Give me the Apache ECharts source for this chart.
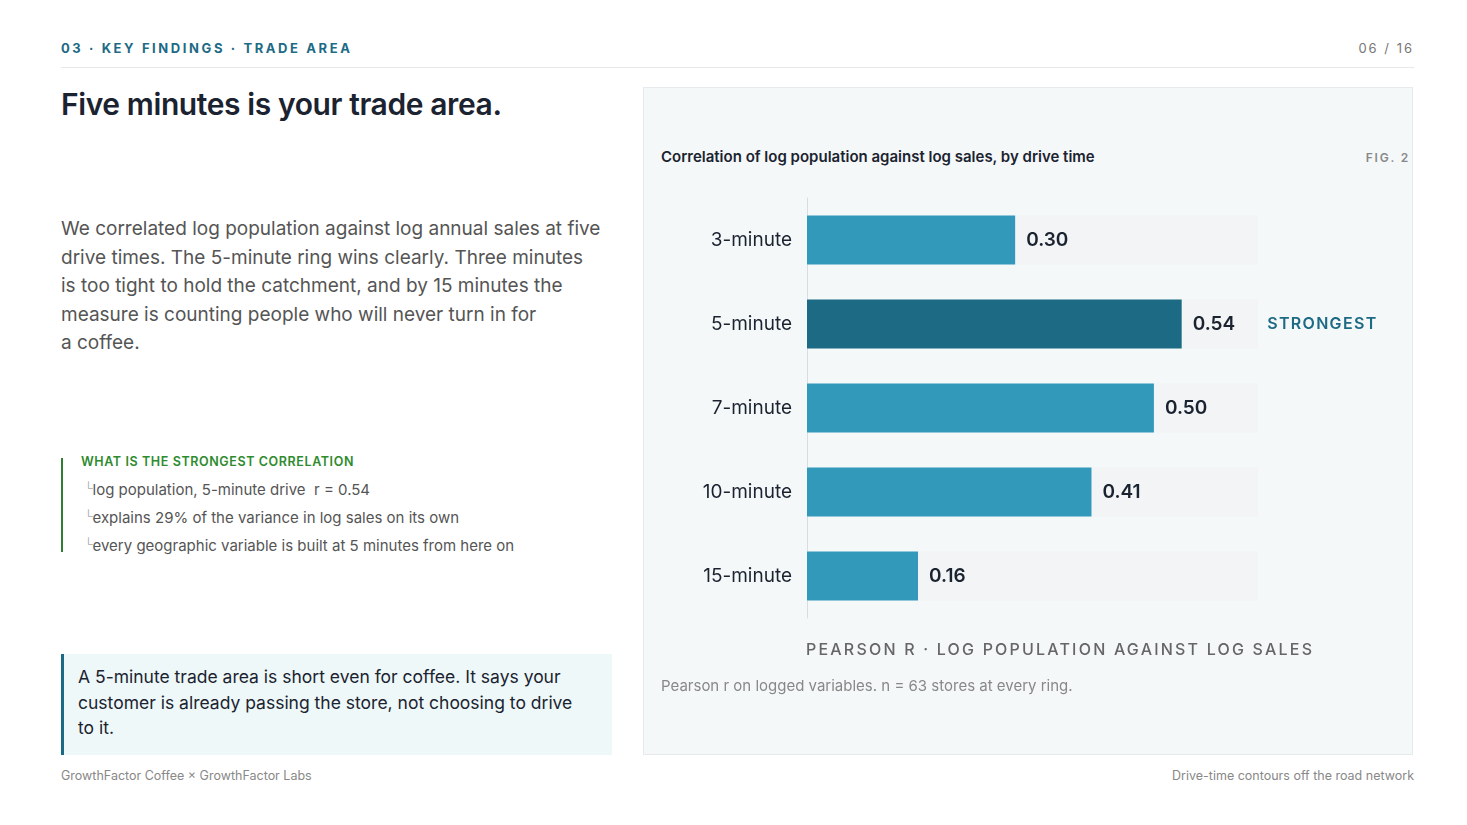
<!DOCTYPE html>
<html>
<head>
<meta charset="utf-8">
<script src="https://cdn.jsdelivr.net/npm/echarts@6/dist/echarts.min.js"></script>
<style>
  body{margin:0;width:1467px;height:825px;background:#fff;font-family:Inter,sans-serif;position:relative;overflow:hidden}
  .abs{position:absolute}
  #kicker{left:61px;top:40px;font-size:13px;font-weight:700;letter-spacing:2.6px;color:#1d6a85}
  #page{right:53px;top:40px;font-size:13px;letter-spacing:2px;color:#777}
  #rule{left:61px;right:53px;top:67px;height:1px;background:#e6e8ea}
  h1{position:absolute;left:61px;top:86px;margin:0;font-size:30px;font-weight:600;color:#1b2330;letter-spacing:-0.4px}
  #lead{left:61px;top:215px;width:560px;font-size:19px;line-height:28.5px;color:#555;white-space:nowrap}
  #box{left:61px;top:458px;height:94px;border-left:2px solid #2e7d32;padding-left:18px}
  #box .t{font-size:12.5px;font-weight:600;letter-spacing:0.6px;color:#2e8b2e;margin-top:-4px;margin-bottom:6px}
  #box .l{font-size:15px;color:#555;line-height:26px}
  #box .l span{color:#aaa;font-size:12px;vertical-align:3px;margin-left:3px}
  #call{left:61px;top:654px;width:551px;height:101px;background:#eef8f9;border-left:3px solid #1d6a85;padding:10px 30px 0 14px;box-sizing:border-box;font-size:17.5px;line-height:25.5px;color:#1b2330}
  #panel{left:643px;top:87px;width:770px;height:668px;background:#f5f8f9;border:1px solid #e6eaec;box-sizing:border-box}
  #ctitle{left:661px;top:147px;font-size:15px;font-weight:600;color:#1b2330}
  #fig{right:57px;top:150px;font-size:12px;letter-spacing:1.8px;color:#888;font-weight:600}
  #chart{left:643px;top:180px;width:770px;height:500px}
  #xname{left:806px;top:639px;font-size:16px;font-weight:500;letter-spacing:2.2px;color:#666}
  #note{left:661px;top:676px;font-size:15px;color:#888}
  #foot1{left:61px;top:768px;font-size:12.5px;color:#888}
  #foot2{right:53px;top:768px;font-size:12.5px;color:#888}
</style>
</head>
<body>
<div class="abs" id="kicker">03 · KEY FINDINGS · TRADE AREA</div>
<div class="abs" id="page">06 / 16</div>
<div class="abs" id="rule"></div>
<h1>Five minutes is your trade area.</h1>
<div class="abs" id="lead">We correlated log population against log annual sales at five<br>drive times. The 5-minute ring wins clearly. Three minutes<br>is too tight to hold the catchment, and by 15 minutes the<br>measure is counting people who will never turn in for<br>a coffee.</div>
<div class="abs" id="box">
  <div class="t">WHAT IS THE STRONGEST CORRELATION</div>
  <div class="l"><span>└</span>log population, 5-minute drive&nbsp; r = 0.54</div>
  <div class="l"><span>└</span>explains 29% of the variance in log sales on its own</div>
  <div class="l"><span>└</span>every geographic variable is built at 5 minutes from here on</div>
</div>
<div class="abs" id="call">A 5-minute trade area is short even for coffee. It says your customer is already passing the store, not choosing to drive to it.</div>
<div class="abs" id="panel"></div>
<div class="abs" id="ctitle">Correlation of log population against log sales, by drive time</div>
<div class="abs" id="fig">FIG. 2</div>
<div class="abs" id="chart"></div>
<div class="abs" id="xname">PEARSON R · LOG POPULATION AGAINST LOG SALES</div>
<div class="abs" id="note">Pearson r on logged variables. n = 63 stores at every ring.</div>
<div class="abs" id="foot1">GrowthFactor Coffee × GrowthFactor Labs</div>
<div class="abs" id="foot2">Drive-time contours off the road network</div>
<script>
const rings = ['3-minute', '5-minute', '7-minute', '10-minute', '15-minute']
const pearsonR = [0.30, 0.54, 0.50, 0.41, 0.16]
const strongest = 1

const chart = echarts.init(document.getElementById('chart'))

chart.setOption({
  animation: false,
  grid: {left: 164, right: 155, top: 18, bottom: 62},
  xAxis: {
    type: 'value', min: 0, max: 0.65,
    axisLabel: {show: false}, splitLine: {show: false}
  },
  yAxis: {
    type: 'category', data: rings, inverse: true,
    axisTick: {show: false},
    axisLine: {lineStyle: {color: '#d8dde0'}},
    axisLabel: {fontFamily: 'Inter', fontSize: 19, color: '#1b2330', margin: 15}
  },
  series: [{
    type: 'bar', barWidth: 49,
    showBackground: true,
    backgroundStyle: {color: '#f2f4f6'},
    data: pearsonR.map((v, i) => ({
      value: v,
      itemStyle: {color: i === strongest ? '#1d6a85' : '#3399bb'}
    })),
    label: {
      show: true, position: 'right', distance: 11,
      fontFamily: 'Inter', fontSize: 19, fontWeight: 600, color: '#1b2330',
      formatter: p => p.value.toFixed(2) + (p.dataIndex === strongest ? '{s|' + 'STRONGEST'.split('').join('\u200a') + '}' : ''),
      rich: {s: {fontFamily: 'Inter', fontSize: 16, fontWeight: 600, color: '#1d6a85', padding: [0, 0, 0, 32]}}
    }
  }]
})
</script>
</body>
</html>
